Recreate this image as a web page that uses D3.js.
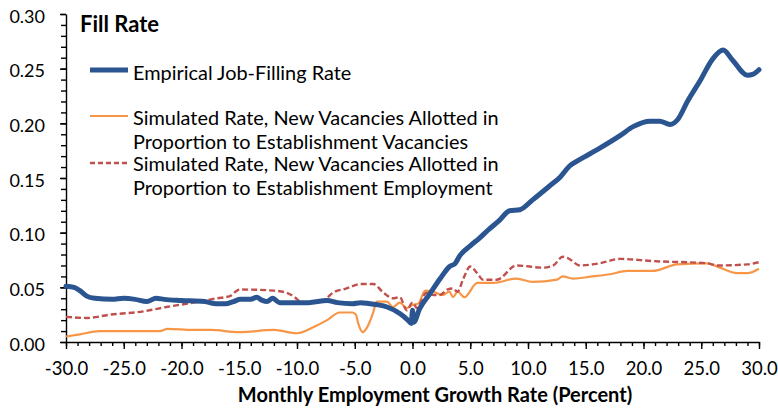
<!DOCTYPE html>
<html>
<head>
<meta charset="utf-8">
<script src="https://cdn.jsdelivr.net/npm/d3@7"></script>
<style>
  body { margin: 0; background: #fff; }
  text { font-family: Lato, "Open Sans", sans-serif; fill: #000; }
  .axis path, .axis line { stroke: #000; stroke-width: 1.4; }
</style>
</head>
<body>
<div id="chart"></div>
<script>
// chart size
var width = 778, height = 409;
var margin = {top: 14, right: 19, bottom: 67, left: 66};

// series: [growth rate %, fill rate]
var empirical = [[-30,0.051],[-29.3,0.050],[-28.8,0.047],[-28.2,0.042],[-27.5,0.040],[-26,0.039],[-25,0.040],
  [-24,0.039],[-23,0.037],[-22.2,0.040],[-21.5,0.039],[-20,0.038],[-18,0.037],[-17,0.035],[-16.2,0.035],
  [-15.5,0.037],[-14.9,0.039],[-14,0.039],[-13.5,0.041],[-13,0.038],[-12.6,0.037],[-12.1,0.040],[-11.5,0.036],
  [-10,0.036],[-9,0.036],[-7.4,0.038],[-6.5,0.036],[-5.2,0.035],[-4.5,0.036],[-3.7,0.035],[-3,0.034],
  [-2.2,0.032],[-1.1,0.026],[-0.4,0.020],[-0.1,0.017],[0,0.029],[0.1,0.018],[0.6,0.030],[1.5,0.044],
  [2.4,0.058],[3.2,0.069],[3.7,0.072],[4.1,0.079],[5.0,0.088],[5.8,0.095],[6.5,0.102],[7.5,0.111],
  [8.4,0.120],[9.3,0.121],[10.4,0.130],[11.9,0.143],[12.8,0.151],[13.6,0.161],[14.5,0.167],[16.0,0.176],
  [18.0,0.189],[19.1,0.197],[20.6,0.202],[21.4,0.202],[22.3,0.199],[23.0,0.204],[23.8,0.220],[24.9,0.239],
  [26.0,0.259],[26.9,0.267],[27.7,0.258],[29.0,0.244],[29.5,0.245],[30.0,0.249]];

var simVacancies = [[-30,0.005],[-28.8,0.007],[-27.1,0.010],[-24,0.010],[-21.9,0.010],[-21.2,0.012],[-19,0.011],
  [-17.5,0.011],[-15,0.009],[-12,0.011],[-10,0.008],[-8.5,0.014],[-7.4,0.020],[-6.3,0.027],[-5.2,0.027],
  [-4.9,0.025],[-4.7,0.017],[-4.3,0.009],[-3.9,0.014],[-3.4,0.027],[-3.1,0.037],[-2.2,0.037],[-1.7,0.032],
  [-1.1,0.036],[-0.5,0.031],[0,0.034],[0.5,0.035],[1.1,0.047],[1.8,0.046],[2.6,0.043],[3.2,0.046],[3.5,0.041],
  [3.9,0.046],[4.5,0.041],[5.6,0.054],[7.0,0.054],[9.0,0.058],[10.4,0.055],[12.5,0.057],[13.0,0.060],
  [13.9,0.058],[15.6,0.060],[17.1,0.062],[18.6,0.065],[20.8,0.065],[22.9,0.071],[25.5,0.072],[26.6,0.068],
  [28.1,0.063],[29.0,0.063],[30,0.067]];

var simEmployment = [[-30,0.023],[-28.2,0.022],[-26.2,0.025],[-23.3,0.028],[-21.3,0.032],[-19,0.036],[-16.9,0.040],
  [-15.8,0.042],[-15.2,0.047],[-14.9,0.048],[-12,0.047],[-10.9,0.045],[-10.2,0.041],[-9.7,0.037],[-8.6,0.036],
  [-7.7,0.038],[-6.9,0.045],[-5.7,0.049],[-4.5,0.053],[-3.4,0.053],[-2.5,0.045],[-1.7,0.040],[-1.1,0.041],
  [-0.5,0.029],[0,0.036],[0.4,0.031],[0.6,0.034],[1.2,0.045],[1.8,0.043],[2.4,0.043],[3.0,0.048],[3.5,0.049],
  [3.9,0.046],[4.4,0.058],[5.0,0.069],[5.6,0.063],[6.1,0.057],[7.3,0.057],[9.0,0.070],[11.3,0.068],[12.2,0.070],
  [13.0,0.078],[13.4,0.077],[14.5,0.070],[16.2,0.072],[18.0,0.076],[20.8,0.074],[25.5,0.072],[26.4,0.070],
  [29.0,0.071],[30,0.073]];

var xTicks = [-30, -25, -20, -15, -10, -5, 0, 5, 10, 15, 20, 25, 30];
var yTicks = [0, 0.05, 0.10, 0.15, 0.20, 0.25, 0.30];

var legendLabels = [
  ["Empirical Job-Filling Rate"],
  ["Simulated Rate, New Vacancies Allotted in", "Proportion to Establishment Vacancies"],
  ["Simulated Rate, New Vacancies Allotted in", "Proportion to Establishment Employment"]
];

var svg = d3.select("#chart").append("svg")
  .attr("width", width)
  .attr("height", height);

var x = d3.scaleLinear().domain([-30, 30]).range([margin.left, width - margin.right]);
var y = d3.scaleLinear().domain([0, 0.30]).range([height - margin.bottom, margin.top]);

// minor ticks first, majors on top
svg.append("g")
  .attr("class", "axis")
  .attr("transform", "translate(0," + (height - margin.bottom) + ")")
  .call(d3.axisBottom(x).tickValues(d3.range(-30, 30.01, 1)).tickSize(4).tickFormat(""))
  .select(".domain").remove();
svg.append("g")
  .attr("class", "axis")
  .attr("transform", "translate(" + margin.left + ",0)")
  .call(d3.axisLeft(y).tickValues(d3.range(0, 30.01, 1).map(function(d) { return d / 100; })).tickSize(5).tickFormat(""))
  .select(".domain").remove();

var xAxis = svg.append("g")
  .attr("class", "axis")
  .attr("transform", "translate(0," + (height - margin.bottom) + ")")
  .call(d3.axisBottom(x).tickValues(xTicks).tickSizeInner(7).tickSizeOuter(0).tickPadding(13)
    .tickFormat(function(d) { return d.toFixed(1); }));
xAxis.selectAll("text").style("font-size", "18.5px");

var yAxis = svg.append("g")
  .attr("class", "axis")
  .attr("transform", "translate(" + margin.left + ",0)")
  .call(d3.axisLeft(y).tickValues(yTicks).tickSizeInner(6).tickSizeOuter(0).tickPadding(15).tickFormat(d3.format(".2f")));
yAxis.selectAll("text").style("font-size", "18px").attr("dy", "0.45em");

svg.append("text")
  .attr("x", 435)
  .attr("y", 402)
  .attr("text-anchor", "middle")
  .style("font-size", "20px")
  .style("font-weight", "bold")
  .text("Monthly Employment Growth Rate (Percent)");

var line = d3.line()
  .x(function(d) { return x(d[0]); })
  .y(function(d) { return y(d[1]); })
  .curve(d3.curveMonotoneX);

svg.append("path").datum(simVacancies)
  .attr("d", line)
  .style("fill", "none")
  .style("stroke", "#F79646")
  .style("stroke-width", 2.2);

svg.append("path").datum(simEmployment)
  .attr("d", line)
  .style("fill", "none")
  .style("stroke", "#C0504D")
  .style("stroke-width", 2.4)
  .style("stroke-dasharray", "6,3");

svg.append("path").datum(empirical)
  .attr("d", line)
  .style("fill", "none")
  .style("stroke", "#2B5590")
  .style("stroke-width", 5)
  .style("stroke-linecap", "round")
  .style("stroke-linejoin", "round");

// legend
svg.append("text")
  .attr("x", 80)
  .attr("y", 32)
  .style("font-size", "22px")
  .style("font-weight", "bold")
  .text("Fill Rate");

var legendStyles = [
  {color: "#2B5590", w: 5, dash: null, ly: 70, ty: 80},
  {color: "#F79646", w: 2.2, dash: null, ly: 116, ty: 125},
  {color: "#C0504D", w: 2.4, dash: "5,3", ly: 163, ty: 171}
];

legendLabels.forEach(function(lines, i) {
  var s = legendStyles[i];
  svg.append("line")
    .attr("x1", 90).attr("x2", 128)
    .attr("y1", s.ly).attr("y2", s.ly)
    .style("stroke", s.color)
    .style("stroke-width", s.w)
    .style("stroke-dasharray", s.dash);
  lines.forEach(function(t, j) {
    svg.append("text")
      .attr("x", 133)
      .attr("y", s.ty + j * 23.5)
      .style("font-size", "19.9px")
      .text(t);
  });
});
</script>
</body>
</html>
